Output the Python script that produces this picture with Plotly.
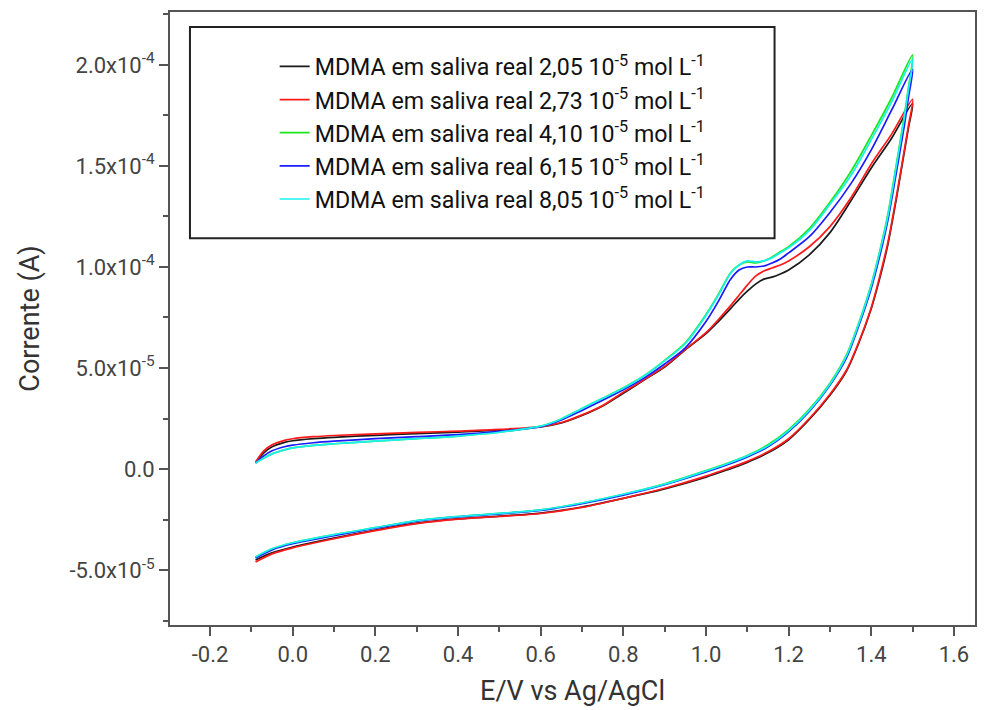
import plotly.graph_objects as go

# ---------------- data (current in units of 1e-5 A) ----------------
SCALE = 1e-5
E_fwd = [-0.09, -0.07, -0.05, -0.02, 0.0, 0.05, 0.1, 0.2, 0.3, 0.4, 0.5, 0.6, 0.65, 0.7, 0.75,
         0.8, 0.85, 0.9, 0.95, 1.0, 1.03, 1.06, 1.08, 1.1, 1.12, 1.14, 1.16, 1.18, 1.2, 1.25,
         1.3, 1.35, 1.4, 1.45, 1.5]
E_rev = [1.5, 1.49, 1.48, 1.46, 1.44, 1.42, 1.4, 1.37, 1.34, 1.3, 1.25, 1.2, 1.15, 1.1, 1.05,
         1.0, 0.9, 0.8, 0.7, 0.6, 0.5, 0.4, 0.3, 0.2, 0.1, 0.0, -0.05, -0.09]

names = [
    "MDMA em saliva real 2,05 10<sup>-5</sup> mol L<sup>-1</sup>",
    "MDMA em saliva real 2,73 10<sup>-5</sup> mol L<sup>-1</sup>",
    "MDMA em saliva real 4,10 10<sup>-5</sup> mol L<sup>-1</sup>",
    "MDMA em saliva real 6,15 10<sup>-5</sup> mol L<sup>-1</sup>",
    "MDMA em saliva real 8,05 10<sup>-5</sup> mol L<sup>-1</sup>",
]
colors = ["#1a1a1a", "#ff1a1a", "#1ee61e", "#1a1aff", "#1af0f0"]

I_fwd_205 = [0.3, 0.8, 1.1, 1.32, 1.4, 1.5, 1.57, 1.67, 1.75, 1.83, 1.92, 2.08, 2.28, 2.65, 3.12,
             3.75, 4.4, 5.05, 5.9, 6.7, 7.3, 7.95, 8.4, 8.8, 9.15, 9.4, 9.5, 9.65, 9.85, 10.6,
             11.7, 13.25, 14.9, 16.4, 18.1]
I_fwd_273 = [0.35, 0.9, 1.2, 1.42, 1.5, 1.6, 1.66, 1.74, 1.81, 1.88, 1.96, 2.1, 2.3, 2.68, 3.15,
             3.8, 4.42, 5.08, 5.92, 6.75, 7.4, 8.1, 8.6, 9.1, 9.55, 9.8, 9.95, 10.1, 10.3, 11.0,
             12.0, 13.4, 15.1, 16.6, 18.3]
I_fwd_410 = [0.3, 0.55, 0.75, 0.95, 1.05, 1.17, 1.25, 1.38, 1.5, 1.63, 1.82, 2.12, 2.48, 3.0, 3.5,
             4.02, 4.62, 5.38, 6.25, 7.65, 8.65, 9.72, 10.1, 10.25, 10.2, 10.3, 10.5, 10.75, 11.0, 11.9,
             13.2, 14.7, 16.5, 18.4, 20.5]
I_fwd_615 = [0.3, 0.65, 0.9, 1.1, 1.18, 1.3, 1.38, 1.5, 1.6, 1.7, 1.86, 2.1, 2.43, 2.9, 3.4,
             3.92, 4.5, 5.2, 6.0, 7.3, 8.3, 9.4, 9.85, 10.0, 10.0, 10.05, 10.2, 10.4, 10.7, 11.5,
             12.7, 14.1, 15.8, 17.8, 19.8]
I_fwd_805 = [0.3, 0.55, 0.75, 0.95, 1.05, 1.17, 1.25, 1.38, 1.5, 1.63, 1.82, 2.12, 2.48, 3.0, 3.5,
             4.0, 4.6, 5.35, 6.2, 7.6, 8.6, 9.7, 10.1, 10.3, 10.25, 10.3, 10.45, 10.7, 10.95, 11.8,
             13.1, 14.5, 16.3, 18.2, 20.3]

I_rev_205 = [18.1, 16.9, 15.7, 13.3, 11.1, 9.4, 7.95, 6.25, 4.85, 3.65, 2.45, 1.45, 0.8, 0.33, -0.05,
             -0.4, -0.98, -1.45, -1.88, -2.18, -2.33, -2.47, -2.68, -3.02, -3.42, -3.86, -4.15, -4.5]
I_rev_273 = [18.3, 17.0, 15.8, 13.4, 11.2, 9.5, 8.0, 6.3, 4.9, 3.7, 2.5, 1.5, 0.85, 0.38, 0.0,
             -0.35, -0.95, -1.45, -1.9, -2.2, -2.35, -2.48, -2.7, -3.05, -3.45, -3.9, -4.2, -4.6]
I_rev_410 = [20.5, 18.9, 17.5, 15.0, 12.6, 10.75, 9.15, 7.25, 5.65, 4.25, 2.95, 1.95, 1.2, 0.67, 0.27,
             -0.08, -0.73, -1.25, -1.68, -2.02, -2.2, -2.35, -2.55, -2.9, -3.25, -3.65, -3.95, -4.35]
I_rev_615 = [19.8, 18.4, 17.0, 14.6, 12.3, 10.5, 8.95, 7.1, 5.5, 4.15, 2.85, 1.85, 1.1, 0.6, 0.2,
             -0.15, -0.78, -1.3, -1.72, -2.05, -2.22, -2.37, -2.58, -2.93, -3.3, -3.7, -4.0, -4.4]
I_rev_805 = [20.3, 18.8, 17.4, 14.9, 12.5, 10.7, 9.1, 7.2, 5.6, 4.2, 2.9, 1.9, 1.15, 0.65, 0.25,
             -0.1, -0.75, -1.25, -1.68, -2.02, -2.2, -2.35, -2.55, -2.9, -3.25, -3.65, -3.95, -4.35]

fwd = [I_fwd_205, I_fwd_273, I_fwd_410, I_fwd_615, I_fwd_805]
rev = [I_rev_205, I_rev_273, I_rev_410, I_rev_615, I_rev_805]

x_tickvals = [-0.2, 0.0, 0.2, 0.4, 0.6, 0.8, 1.0, 1.2, 1.4, 1.6]
x_ticktext = ["-0.2", "0.0", "0.2", "0.4", "0.6", "0.8", "1.0", "1.2", "1.4", "1.6"]
y_tickvals = [-5e-5, 0.0, 5e-5, 1e-4, 1.5e-4, 2e-4]
y_ticktext = ["-5.0x10<sup>-5</sup>", "0.0", "5.0x10<sup>-5</sup>", "1.0x10<sup>-4</sup>",
              "1.5x10<sup>-4</sup>", "2.0x10<sup>-4</sup>"]

# ---------------- figure ----------------
fig = go.Figure()
for i in range(5):
    xs = E_fwd + E_rev[1:]
    ys = [v * SCALE for v in fwd[i] + rev[i][1:]]
    fig.add_trace(go.Scatter(
        x=xs, y=ys, mode="lines", name=names[i],
        line=dict(color=colors[i], width=1.7, shape="spline", smoothing=0.8),
    ))

font_family = "Roboto, Liberation Sans, Arial, sans-serif"
axis_col = "#555555"

fig.update_layout(
    width=986, height=710,
    margin=dict(l=170, r=11, t=12, b=85),
    paper_bgcolor="white", plot_bgcolor="white",
    font=dict(family=font_family, color="#333333"),
    showlegend=True,
    legend=dict(
        x=0.13, y=0.9465, xanchor="left", yanchor="top",
        bgcolor="rgba(0,0,0,0)", borderwidth=0,
        font=dict(size=23.2, color="#111111", family=font_family),
        itemwidth=30,
    ),
    shapes=[dict(type="rect", xref="paper", yref="paper",
                 x0=0.0248, x1=0.751, y0=0.631, y1=0.9755,
                 line=dict(color="#222222", width=2), fillcolor="rgba(0,0,0,0)", layer="above")],
)

fig.update_xaxes(
    range=[-0.297, 1.651], showgrid=False, zeroline=False, automargin=False,
    showline=True, linecolor=axis_col, linewidth=2, mirror=True,
    ticks="outside", ticklen=9, tickwidth=1.5, tickcolor=axis_col,
    tickvals=x_tickvals, ticktext=x_ticktext,
    tickfont=dict(size=22, color="#444444"),
    minor=dict(ticks="outside", ticklen=5, tickwidth=1.5, tickcolor=axis_col, dtick=0.1, tick0=-0.3),
    title=dict(text="E/V vs Ag/AgCl", font=dict(size=27, color="#333333"), standoff=15),
)
fig.update_yaxes(
    range=[-7.72e-5, 2.262e-4], showgrid=False, zeroline=False, automargin=False,
    showline=True, linecolor=axis_col, linewidth=2, mirror=True,
    ticks="outside", ticklen=9, tickwidth=1.5, tickcolor=axis_col,
    tickvals=y_tickvals, ticktext=y_ticktext,
    tickfont=dict(size=22, color="#444444"),
    minor=dict(ticks="outside", ticklen=5, tickwidth=1.5, tickcolor=axis_col, dtick=2.5e-5, tick0=0),
    title=dict(text="Corrente (A)", font=dict(size=27, color="#333333"), standoff=22),
)

fig.write_html("out.html")
